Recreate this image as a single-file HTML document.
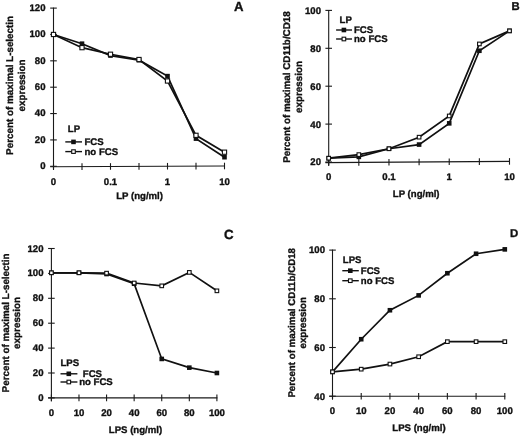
<!DOCTYPE html>
<html><head><meta charset="utf-8"><style>
html,body{margin:0;padding:0;background:#fff;}
svg{display:block;will-change:transform;}
text{font-family:"Liberation Sans", sans-serif;font-weight:bold;fill:#111;text-rendering:geometricPrecision;stroke:#111;stroke-width:0.35px;stroke-linejoin:round;}
</style></head><body>
<svg width="520" height="436" viewBox="0 0 520 436">
<rect width="520" height="436" fill="#fff"/>
<line x1="53.5" y1="7.60" x2="53.5" y2="169.60" stroke="#1a1a1a" stroke-width="1.1"/>
<line x1="50.20" y1="166.71" x2="225.00" y2="166.00" stroke="#1a1a1a" stroke-width="1.1"/>
<line x1="50.20" y1="166.30" x2="56.80" y2="166.30" stroke="#1a1a1a" stroke-width="1.1"/>
<text x="45.5" y="169.10" text-anchor="end" font-size="9.6">0</text>
<line x1="50.20" y1="139.93" x2="56.80" y2="139.93" stroke="#1a1a1a" stroke-width="1.1"/>
<text x="45.5" y="142.73" text-anchor="end" font-size="9.6">20</text>
<line x1="50.20" y1="113.57" x2="56.80" y2="113.57" stroke="#1a1a1a" stroke-width="1.1"/>
<text x="45.5" y="116.37" text-anchor="end" font-size="9.6">40</text>
<line x1="50.20" y1="87.20" x2="56.80" y2="87.20" stroke="#1a1a1a" stroke-width="1.1"/>
<text x="45.5" y="90.00" text-anchor="end" font-size="9.6">60</text>
<line x1="50.20" y1="60.83" x2="56.80" y2="60.83" stroke="#1a1a1a" stroke-width="1.1"/>
<text x="45.5" y="63.63" text-anchor="end" font-size="9.6">80</text>
<line x1="50.20" y1="34.47" x2="56.80" y2="34.47" stroke="#1a1a1a" stroke-width="1.1"/>
<text x="45.5" y="37.27" text-anchor="end" font-size="9.6">100</text>
<line x1="50.20" y1="8.10" x2="56.80" y2="8.10" stroke="#1a1a1a" stroke-width="1.1"/>
<text x="45.5" y="10.90" text-anchor="end" font-size="9.6">120</text>
<line x1="53.50" y1="163.40" x2="53.50" y2="170.00" stroke="#1a1a1a" stroke-width="1.1"/>
<line x1="82.00" y1="163.28" x2="82.00" y2="169.88" stroke="#1a1a1a" stroke-width="1.1"/>
<line x1="110.50" y1="163.17" x2="110.50" y2="169.77" stroke="#1a1a1a" stroke-width="1.1"/>
<line x1="139.00" y1="163.05" x2="139.00" y2="169.65" stroke="#1a1a1a" stroke-width="1.1"/>
<line x1="167.50" y1="162.93" x2="167.50" y2="169.53" stroke="#1a1a1a" stroke-width="1.1"/>
<line x1="196.00" y1="162.82" x2="196.00" y2="169.42" stroke="#1a1a1a" stroke-width="1.1"/>
<line x1="224.50" y1="162.70" x2="224.50" y2="169.30" stroke="#1a1a1a" stroke-width="1.1"/>
<text x="53.50" y="185.4" text-anchor="middle" font-size="9.6">0</text>
<text x="110.50" y="185.4" text-anchor="middle" font-size="9.6">0.1</text>
<text x="167.50" y="185.4" text-anchor="middle" font-size="9.6">1</text>
<text x="224.50" y="185.4" text-anchor="middle" font-size="9.6">10</text>
<text x="139.6" y="199.2" text-anchor="middle" font-size="9.6">LP (ng/ml)</text>
<text transform="translate(13.3,85.4) rotate(-90)" text-anchor="middle" font-size="9.86">Percent of maximal L-selectin</text>
<text transform="translate(25.3,85.4) rotate(-90)" text-anchor="middle" font-size="9.86">expression</text>
<text x="233.9" y="10.5" font-size="13.2">A</text>
<polyline points="53.50,34.47 82.00,47.65 110.50,54.24 139.00,59.52 167.50,81.00 196.00,135.32 224.50,152.19" fill="none" stroke="#111" stroke-width="1.7" stroke-linejoin="miter"/>
<polyline points="53.50,34.47 82.00,43.69 110.50,55.56 139.00,60.17 167.50,76.13 196.00,138.62 224.50,157.20" fill="none" stroke="#111" stroke-width="1.7" stroke-linejoin="miter"/>
<rect x="51.20" y="32.17" width="4.6" height="4.6" fill="#111"/>
<rect x="79.70" y="41.39" width="4.6" height="4.6" fill="#111"/>
<rect x="108.20" y="53.26" width="4.6" height="4.6" fill="#111"/>
<rect x="136.70" y="57.87" width="4.6" height="4.6" fill="#111"/>
<rect x="165.20" y="73.83" width="4.6" height="4.6" fill="#111"/>
<rect x="193.70" y="136.31" width="4.6" height="4.6" fill="#111"/>
<rect x="222.20" y="154.90" width="4.6" height="4.6" fill="#111"/>
<rect x="51.40" y="32.37" width="4.2" height="4.2" fill="#fff" stroke="#111" stroke-width="1.1"/>
<rect x="79.90" y="45.55" width="4.2" height="4.2" fill="#fff" stroke="#111" stroke-width="1.1"/>
<rect x="108.40" y="52.14" width="4.2" height="4.2" fill="#fff" stroke="#111" stroke-width="1.1"/>
<rect x="136.90" y="57.41" width="4.2" height="4.2" fill="#fff" stroke="#111" stroke-width="1.1"/>
<rect x="165.40" y="78.90" width="4.2" height="4.2" fill="#fff" stroke="#111" stroke-width="1.1"/>
<rect x="193.90" y="133.22" width="4.2" height="4.2" fill="#fff" stroke="#111" stroke-width="1.1"/>
<rect x="222.40" y="150.09" width="4.2" height="4.2" fill="#fff" stroke="#111" stroke-width="1.1"/>
<text x="67.8" y="132.2" font-size="9.6">LP</text>
<line x1="65.3" y1="141.9" x2="82.0" y2="141.9" stroke="#111" stroke-width="1.4"/>
<rect x="71.20" y="139.60" width="4.6" height="4.6" fill="#111"/>
<text x="84.5" y="145.3" font-size="9.6">FCS</text>
<line x1="65.3" y1="151.6" x2="82.0" y2="151.6" stroke="#111" stroke-width="1.4"/>
<rect x="71.70" y="149.80" width="3.5999999999999996" height="3.5999999999999996" fill="#fff" stroke="#111" stroke-width="1.1"/>
<text x="84.5" y="155.0" font-size="9.6">no FCS</text>
<line x1="328.7" y1="9.90" x2="328.7" y2="165.30" stroke="#1a1a1a" stroke-width="1.1"/>
<line x1="325.40" y1="162.62" x2="510.00" y2="161.40" stroke="#1a1a1a" stroke-width="1.1"/>
<line x1="325.40" y1="162.00" x2="332.00" y2="162.00" stroke="#1a1a1a" stroke-width="1.1"/>
<text x="321" y="165.40" text-anchor="end" font-size="9.6">20</text>
<line x1="325.40" y1="124.10" x2="332.00" y2="124.10" stroke="#1a1a1a" stroke-width="1.1"/>
<text x="321" y="127.50" text-anchor="end" font-size="9.6">40</text>
<line x1="325.40" y1="86.20" x2="332.00" y2="86.20" stroke="#1a1a1a" stroke-width="1.1"/>
<text x="321" y="89.60" text-anchor="end" font-size="9.6">60</text>
<line x1="325.40" y1="48.30" x2="332.00" y2="48.30" stroke="#1a1a1a" stroke-width="1.1"/>
<text x="321" y="51.70" text-anchor="end" font-size="9.6">80</text>
<line x1="325.40" y1="10.40" x2="332.00" y2="10.40" stroke="#1a1a1a" stroke-width="1.1"/>
<text x="321" y="13.80" text-anchor="end" font-size="9.6">100</text>
<line x1="328.70" y1="159.30" x2="328.70" y2="165.90" stroke="#1a1a1a" stroke-width="1.1"/>
<line x1="358.83" y1="159.10" x2="358.83" y2="165.70" stroke="#1a1a1a" stroke-width="1.1"/>
<line x1="388.97" y1="158.90" x2="388.97" y2="165.50" stroke="#1a1a1a" stroke-width="1.1"/>
<line x1="419.10" y1="158.70" x2="419.10" y2="165.30" stroke="#1a1a1a" stroke-width="1.1"/>
<line x1="449.23" y1="158.50" x2="449.23" y2="165.10" stroke="#1a1a1a" stroke-width="1.1"/>
<line x1="479.37" y1="158.30" x2="479.37" y2="164.90" stroke="#1a1a1a" stroke-width="1.1"/>
<line x1="509.50" y1="158.10" x2="509.50" y2="164.70" stroke="#1a1a1a" stroke-width="1.1"/>
<text x="328.70" y="180.2" text-anchor="middle" font-size="9.6">0</text>
<text x="388.97" y="180.2" text-anchor="middle" font-size="9.6">0.1</text>
<text x="449.23" y="180.2" text-anchor="middle" font-size="9.6">1</text>
<text x="509.50" y="180.2" text-anchor="middle" font-size="9.6">10</text>
<text x="416.2" y="197.3" text-anchor="middle" font-size="9.6">LP (ng/ml)</text>
<text transform="translate(289.7,87) rotate(-90)" text-anchor="middle" font-size="9.85">Percent of maximal CD11b/CD18</text>
<text transform="translate(301.5,87) rotate(-90)" text-anchor="middle" font-size="9.85">expression</text>
<text x="511.5" y="10.3" font-size="11.3">B</text>
<polyline points="328.70,158.21 358.83,154.61 388.97,148.74 419.10,137.18 449.23,115.95 479.37,43.94 509.50,30.87" fill="none" stroke="#111" stroke-width="1.7" stroke-linejoin="miter"/>
<polyline points="328.70,158.21 358.83,156.88 388.97,148.74 419.10,144.57 449.23,123.34 479.37,50.76 509.50,30.87" fill="none" stroke="#111" stroke-width="1.7" stroke-linejoin="miter"/>
<rect x="326.40" y="155.91" width="4.6" height="4.6" fill="#111"/>
<rect x="356.53" y="154.58" width="4.6" height="4.6" fill="#111"/>
<rect x="386.67" y="146.44" width="4.6" height="4.6" fill="#111"/>
<rect x="416.80" y="142.27" width="4.6" height="4.6" fill="#111"/>
<rect x="446.93" y="121.04" width="4.6" height="4.6" fill="#111"/>
<rect x="477.07" y="48.46" width="4.6" height="4.6" fill="#111"/>
<rect x="507.20" y="28.57" width="4.6" height="4.6" fill="#111"/>
<rect x="326.90" y="156.41" width="3.5999999999999996" height="3.5999999999999996" fill="#fff" stroke="#111" stroke-width="1.1"/>
<rect x="357.03" y="152.81" width="3.5999999999999996" height="3.5999999999999996" fill="#fff" stroke="#111" stroke-width="1.1"/>
<rect x="387.17" y="146.94" width="3.5999999999999996" height="3.5999999999999996" fill="#fff" stroke="#111" stroke-width="1.1"/>
<rect x="417.30" y="135.38" width="3.5999999999999996" height="3.5999999999999996" fill="#fff" stroke="#111" stroke-width="1.1"/>
<rect x="447.43" y="114.15" width="3.5999999999999996" height="3.5999999999999996" fill="#fff" stroke="#111" stroke-width="1.1"/>
<rect x="477.57" y="42.14" width="3.5999999999999996" height="3.5999999999999996" fill="#fff" stroke="#111" stroke-width="1.1"/>
<rect x="507.70" y="29.07" width="3.5999999999999996" height="3.5999999999999996" fill="#fff" stroke="#111" stroke-width="1.1"/>
<text x="339.6" y="22.9" font-size="9.6">LP</text>
<line x1="336.1" y1="30" x2="352.0" y2="30" stroke="#111" stroke-width="1.4"/>
<rect x="341.60" y="27.70" width="4.6" height="4.6" fill="#111"/>
<text x="354" y="33.4" font-size="9.6">FCS</text>
<line x1="336.1" y1="39" x2="352.0" y2="39" stroke="#111" stroke-width="1.4"/>
<rect x="342.10" y="37.20" width="3.5999999999999996" height="3.5999999999999996" fill="#fff" stroke="#111" stroke-width="1.1"/>
<text x="354" y="42.4" font-size="9.6">no FCS</text>
<line x1="51.4" y1="248.00" x2="51.4" y2="401.20" stroke="#1a1a1a" stroke-width="1.1"/>
<line x1="48.10" y1="397.90" x2="217.40" y2="397.90" stroke="#1a1a1a" stroke-width="1.1"/>
<line x1="48.10" y1="397.90" x2="54.70" y2="397.90" stroke="#1a1a1a" stroke-width="1.1"/>
<text x="43.5" y="400.90" text-anchor="end" font-size="9.6">0</text>
<line x1="48.10" y1="373.00" x2="54.70" y2="373.00" stroke="#1a1a1a" stroke-width="1.1"/>
<text x="43.5" y="376.00" text-anchor="end" font-size="9.6">20</text>
<line x1="48.10" y1="348.10" x2="54.70" y2="348.10" stroke="#1a1a1a" stroke-width="1.1"/>
<text x="43.5" y="351.10" text-anchor="end" font-size="9.6">40</text>
<line x1="48.10" y1="323.20" x2="54.70" y2="323.20" stroke="#1a1a1a" stroke-width="1.1"/>
<text x="43.5" y="326.20" text-anchor="end" font-size="9.6">60</text>
<line x1="48.10" y1="298.30" x2="54.70" y2="298.30" stroke="#1a1a1a" stroke-width="1.1"/>
<text x="43.5" y="301.30" text-anchor="end" font-size="9.6">80</text>
<line x1="48.10" y1="273.40" x2="54.70" y2="273.40" stroke="#1a1a1a" stroke-width="1.1"/>
<text x="43.5" y="276.40" text-anchor="end" font-size="9.6">100</text>
<line x1="48.10" y1="248.50" x2="54.70" y2="248.50" stroke="#1a1a1a" stroke-width="1.1"/>
<text x="43.5" y="251.50" text-anchor="end" font-size="9.6">120</text>
<line x1="51.40" y1="394.60" x2="51.40" y2="401.20" stroke="#1a1a1a" stroke-width="1.1"/>
<line x1="78.98" y1="394.60" x2="78.98" y2="401.20" stroke="#1a1a1a" stroke-width="1.1"/>
<line x1="106.57" y1="394.60" x2="106.57" y2="401.20" stroke="#1a1a1a" stroke-width="1.1"/>
<line x1="134.15" y1="394.60" x2="134.15" y2="401.20" stroke="#1a1a1a" stroke-width="1.1"/>
<line x1="161.73" y1="394.60" x2="161.73" y2="401.20" stroke="#1a1a1a" stroke-width="1.1"/>
<line x1="189.32" y1="394.60" x2="189.32" y2="401.20" stroke="#1a1a1a" stroke-width="1.1"/>
<line x1="216.90" y1="394.60" x2="216.90" y2="401.20" stroke="#1a1a1a" stroke-width="1.1"/>
<text x="51.40" y="415.8" text-anchor="middle" font-size="9.6">0</text>
<text x="78.98" y="415.8" text-anchor="middle" font-size="9.6">10</text>
<text x="106.57" y="415.8" text-anchor="middle" font-size="9.6">20</text>
<text x="134.15" y="415.8" text-anchor="middle" font-size="9.6">40</text>
<text x="161.73" y="415.8" text-anchor="middle" font-size="9.6">60</text>
<text x="189.32" y="415.8" text-anchor="middle" font-size="9.6">80</text>
<text x="216.90" y="415.8" text-anchor="middle" font-size="9.6">100</text>
<text x="135.5" y="432.5" text-anchor="middle" font-size="9.6">LPS (ng/ml)</text>
<text transform="translate(8.7,322.9) rotate(-90)" text-anchor="middle" font-size="9.86">Percent of maximal L-selectin</text>
<text transform="translate(20.3,322.9) rotate(-90)" text-anchor="middle" font-size="9.86">expression</text>
<text x="223.9" y="238.7" font-size="13.3">C</text>
<polyline points="51.40,272.78 78.98,272.78 106.57,273.15 134.15,282.99 161.73,285.85 189.32,272.40 216.90,290.83" fill="none" stroke="#111" stroke-width="1.7" stroke-linejoin="miter"/>
<polyline points="51.40,272.78 78.98,272.78 106.57,274.02 134.15,283.73 161.73,358.93 189.32,367.65 216.90,373.00" fill="none" stroke="#111" stroke-width="1.7" stroke-linejoin="miter"/>
<rect x="49.10" y="270.48" width="4.6" height="4.6" fill="#111"/>
<rect x="76.68" y="270.48" width="4.6" height="4.6" fill="#111"/>
<rect x="104.27" y="271.72" width="4.6" height="4.6" fill="#111"/>
<rect x="131.85" y="281.43" width="4.6" height="4.6" fill="#111"/>
<rect x="159.43" y="356.63" width="4.6" height="4.6" fill="#111"/>
<rect x="187.02" y="365.35" width="4.6" height="4.6" fill="#111"/>
<rect x="214.60" y="370.70" width="4.6" height="4.6" fill="#111"/>
<rect x="49.60" y="270.98" width="3.5999999999999996" height="3.5999999999999996" fill="#fff" stroke="#111" stroke-width="1.1"/>
<rect x="77.18" y="270.98" width="3.5999999999999996" height="3.5999999999999996" fill="#fff" stroke="#111" stroke-width="1.1"/>
<rect x="104.77" y="271.35" width="3.5999999999999996" height="3.5999999999999996" fill="#fff" stroke="#111" stroke-width="1.1"/>
<rect x="132.35" y="281.19" width="3.5999999999999996" height="3.5999999999999996" fill="#fff" stroke="#111" stroke-width="1.1"/>
<rect x="159.93" y="284.05" width="3.5999999999999996" height="3.5999999999999996" fill="#fff" stroke="#111" stroke-width="1.1"/>
<rect x="187.52" y="270.60" width="3.5999999999999996" height="3.5999999999999996" fill="#fff" stroke="#111" stroke-width="1.1"/>
<rect x="215.10" y="289.03" width="3.5999999999999996" height="3.5999999999999996" fill="#fff" stroke="#111" stroke-width="1.1"/>
<text x="60.5" y="365.8" font-size="9.6">LPS</text>
<line x1="60.5" y1="373.8" x2="77.4" y2="373.8" stroke="#111" stroke-width="1.4"/>
<rect x="66.50" y="371.50" width="4.6" height="4.6" fill="#111"/>
<text x="82.8" y="377.2" font-size="9.6">FCS</text>
<line x1="60.5" y1="382" x2="77.4" y2="382" stroke="#111" stroke-width="1.4"/>
<rect x="67.00" y="380.20" width="3.5999999999999996" height="3.5999999999999996" fill="#fff" stroke="#111" stroke-width="1.1"/>
<text x="79.2" y="385.4" font-size="9.6">no FCS</text>
<line x1="332.5" y1="249.60" x2="332.5" y2="399.50" stroke="#1a1a1a" stroke-width="1.1"/>
<line x1="329.20" y1="396.20" x2="505.30" y2="396.20" stroke="#1a1a1a" stroke-width="1.1"/>
<line x1="329.20" y1="396.20" x2="335.80" y2="396.20" stroke="#1a1a1a" stroke-width="1.1"/>
<text x="325" y="399.55" text-anchor="end" font-size="9.6">40</text>
<line x1="329.20" y1="347.50" x2="335.80" y2="347.50" stroke="#1a1a1a" stroke-width="1.1"/>
<text x="325" y="350.85" text-anchor="end" font-size="9.6">60</text>
<line x1="329.20" y1="298.80" x2="335.80" y2="298.80" stroke="#1a1a1a" stroke-width="1.1"/>
<text x="325" y="302.15" text-anchor="end" font-size="9.6">80</text>
<line x1="329.20" y1="250.10" x2="335.80" y2="250.10" stroke="#1a1a1a" stroke-width="1.1"/>
<text x="325" y="253.45" text-anchor="end" font-size="9.6">100</text>
<line x1="332.50" y1="392.90" x2="332.50" y2="399.50" stroke="#1a1a1a" stroke-width="1.1"/>
<line x1="361.22" y1="392.90" x2="361.22" y2="399.50" stroke="#1a1a1a" stroke-width="1.1"/>
<line x1="389.93" y1="392.90" x2="389.93" y2="399.50" stroke="#1a1a1a" stroke-width="1.1"/>
<line x1="418.65" y1="392.90" x2="418.65" y2="399.50" stroke="#1a1a1a" stroke-width="1.1"/>
<line x1="447.37" y1="392.90" x2="447.37" y2="399.50" stroke="#1a1a1a" stroke-width="1.1"/>
<line x1="476.08" y1="392.90" x2="476.08" y2="399.50" stroke="#1a1a1a" stroke-width="1.1"/>
<line x1="504.80" y1="392.90" x2="504.80" y2="399.50" stroke="#1a1a1a" stroke-width="1.1"/>
<text x="332.50" y="414.2" text-anchor="middle" font-size="9.6">0</text>
<text x="361.22" y="414.2" text-anchor="middle" font-size="9.6">10</text>
<text x="389.93" y="414.2" text-anchor="middle" font-size="9.6">20</text>
<text x="418.65" y="414.2" text-anchor="middle" font-size="9.6">40</text>
<text x="447.37" y="414.2" text-anchor="middle" font-size="9.6">60</text>
<text x="476.08" y="414.2" text-anchor="middle" font-size="9.6">80</text>
<text x="504.80" y="414.2" text-anchor="middle" font-size="9.6">100</text>
<text x="419" y="431" text-anchor="middle" font-size="9.6">LPS (ng/ml)</text>
<text transform="translate(294.7,322.8) rotate(-90)" text-anchor="middle" font-size="9.72">Percent of maximal CD11b/CD18</text>
<text transform="translate(306.2,322.8) rotate(-90)" text-anchor="middle" font-size="9.72">expression</text>
<text x="509.9" y="236.6" font-size="11.4">D</text>
<polyline points="332.50,371.85 361.22,369.17 389.93,364.06 418.65,356.75 447.37,341.66 476.08,341.66 504.80,341.66" fill="none" stroke="#111" stroke-width="1.7" stroke-linejoin="miter"/>
<polyline points="332.50,371.85 361.22,339.22 389.93,310.24 418.65,295.39 447.37,273.23 476.08,253.75 504.80,249.37" fill="none" stroke="#111" stroke-width="1.7" stroke-linejoin="miter"/>
<rect x="330.20" y="369.55" width="4.6" height="4.6" fill="#111"/>
<rect x="358.92" y="336.92" width="4.6" height="4.6" fill="#111"/>
<rect x="387.63" y="307.94" width="4.6" height="4.6" fill="#111"/>
<rect x="416.35" y="293.09" width="4.6" height="4.6" fill="#111"/>
<rect x="445.07" y="270.93" width="4.6" height="4.6" fill="#111"/>
<rect x="473.78" y="251.45" width="4.6" height="4.6" fill="#111"/>
<rect x="502.50" y="247.07" width="4.6" height="4.6" fill="#111"/>
<rect x="330.70" y="370.05" width="3.5999999999999996" height="3.5999999999999996" fill="#fff" stroke="#111" stroke-width="1.1"/>
<rect x="359.42" y="367.37" width="3.5999999999999996" height="3.5999999999999996" fill="#fff" stroke="#111" stroke-width="1.1"/>
<rect x="388.13" y="362.26" width="3.5999999999999996" height="3.5999999999999996" fill="#fff" stroke="#111" stroke-width="1.1"/>
<rect x="416.85" y="354.95" width="3.5999999999999996" height="3.5999999999999996" fill="#fff" stroke="#111" stroke-width="1.1"/>
<rect x="445.57" y="339.86" width="3.5999999999999996" height="3.5999999999999996" fill="#fff" stroke="#111" stroke-width="1.1"/>
<rect x="474.28" y="339.86" width="3.5999999999999996" height="3.5999999999999996" fill="#fff" stroke="#111" stroke-width="1.1"/>
<rect x="503.00" y="339.86" width="3.5999999999999996" height="3.5999999999999996" fill="#fff" stroke="#111" stroke-width="1.1"/>
<text x="342.8" y="262.9" font-size="9.6">LPS</text>
<line x1="342.3" y1="270.7" x2="358.8" y2="270.7" stroke="#111" stroke-width="1.4"/>
<rect x="348.00" y="268.40" width="4.6" height="4.6" fill="#111"/>
<text x="360.8" y="274.09999999999997" font-size="9.6">FCS</text>
<line x1="342.3" y1="280.7" x2="358.8" y2="280.7" stroke="#111" stroke-width="1.4"/>
<rect x="348.50" y="278.90" width="3.5999999999999996" height="3.5999999999999996" fill="#fff" stroke="#111" stroke-width="1.1"/>
<text x="360.8" y="284.09999999999997" font-size="9.6">no FCS</text>
</svg>
</body></html>
